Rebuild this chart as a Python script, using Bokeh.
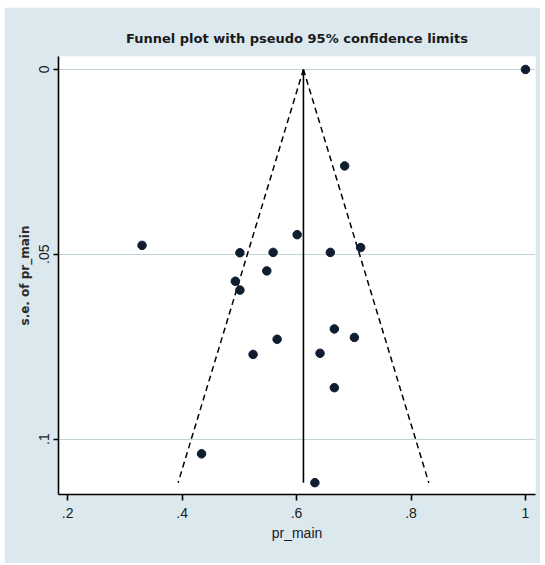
from bokeh.plotting import figure
from bokeh.models import Range1d, FixedTicker, Spacer, ColumnDataSource
from bokeh.layouts import column, row
from bokeh.embed import file_html
from bokeh.resources import INLINE

# study estimates (pr_main) and their standard errors
pr_main = [1.000, 0.684, 0.330, 0.601, 0.501, 0.559, 0.659, 0.712, 0.548, 0.493,
           0.501, 0.566, 0.524, 0.666, 0.701, 0.641, 0.666, 0.434, 0.632]
se_pr_main = [0.0000, 0.0261, 0.0476, 0.0447, 0.0496, 0.0495, 0.0495, 0.0482, 0.0545, 0.0573,
              0.0597, 0.0730, 0.0771, 0.0702, 0.0725, 0.0768, 0.0861, 0.1040, 0.1118]

# pooled estimate and pseudo 95% limits
center_est = 0.612
funnel_se = [0.0, 0.1118]
funnel_lower = [0.612, 0.393]
funnel_upper = [0.612, 0.831]

x_ticks = [0.2, 0.4, 0.6, 0.8, 1.0]
x_tick_labels = [".2", ".4", ".6", ".8", "1"]
y_ticks = [0.0, 0.05, 0.1]
y_tick_labels = ["0", ".05", ".1"]

BG = "#dbe8ee"
GRID = "#c3d3da"
MARK = "#0f1d30"

p = figure(width=536, height=556, output_backend="svg", toolbar_location=None,
           x_range=Range1d(0.184, 1.0175), y_range=Range1d(0.115, -0.0035),
           title="Funnel plot with pseudo 95% confidence limits")
p.min_border_left = 54
p.min_border_right = 5
p.min_border_top = 49
p.min_border_bottom = 69
p.border_fill_color = BG
p.background_fill_color = "white"
p.outline_line_color = None

p.title.align = "center"
p.title.text_font = "DejaVu Sans"
p.title.text_font_size = "13px"
p.title.text_font_style = "bold"
p.title.text_color = "#1a1a1a"
p.title.standoff = 22

p.xgrid.visible = False
p.ygrid.ticker = FixedTicker(ticks=y_ticks)
p.ygrid.grid_line_color = GRID
p.ygrid.grid_line_width = 1.2

xa = p.xaxis[0]
xa.ticker = FixedTicker(ticks=x_ticks)
xa.major_label_overrides = dict(zip(x_ticks, x_tick_labels))
xa.minor_tick_line_color = None
xa.major_tick_out = 6
xa.major_tick_in = 0
xa.axis_line_width = 1.6
xa.major_tick_line_width = 1.6
xa.axis_line_color = "black"
xa.major_label_text_font = "Liberation Sans"
xa.major_label_text_font_size = "14px"
xa.major_label_text_color = "#1a1a1a"
xa.major_label_standoff = 7
xa.axis_label = "pr_main"
xa.axis_label_text_font = "Liberation Sans"
xa.axis_label_text_font_size = "14px"
xa.axis_label_text_font_style = "normal"
xa.axis_label_text_color = "#1a1a1a"
xa.axis_label_standoff = 4

ya = p.yaxis[0]
ya.ticker = FixedTicker(ticks=y_ticks)
ya.major_label_overrides = dict(zip(y_ticks, y_tick_labels))
ya.minor_tick_line_color = None
ya.major_tick_out = 5
ya.major_tick_in = 0
ya.axis_line_width = 1.6
ya.major_tick_line_width = 1.6
ya.axis_line_color = "black"
ya.major_label_orientation = "vertical"
ya.major_label_text_font = "Liberation Sans"
ya.major_label_text_font_size = "14px"
ya.major_label_text_color = "#1a1a1a"
ya.major_label_standoff = 4
ya.axis_label = "s.e. of pr_main"
ya.axis_label_text_font = "DejaVu Sans"
ya.axis_label_text_font_size = "12px"
ya.axis_label_text_font_style = "bold"
ya.axis_label_text_color = "#2a2a2a"
ya.axis_label_standoff = 5

# pooled-estimate line and pseudo confidence limits
p.line([center_est, center_est], funnel_se, line_color="black", line_width=1.6)
p.line(funnel_lower, funnel_se, line_color="black", line_width=1.5, line_dash="6 4")
p.line(funnel_upper, funnel_se, line_color="black", line_width=1.5, line_dash="6 4")

src = ColumnDataSource(dict(x=pr_main, y=se_pr_main))
p.scatter("x", "y", source=src, size=8.5, fill_color=MARK, line_color=MARK)

layout = column(Spacer(height=7), row(Spacer(width=4), p))
open("out.html", "w").write(file_html(layout, INLINE))
